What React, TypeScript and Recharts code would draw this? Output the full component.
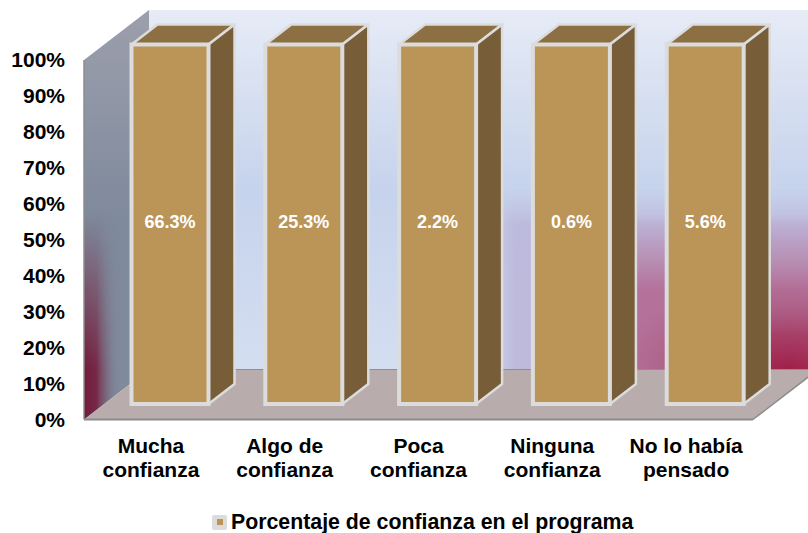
import { BarChart, Bar, XAxis, YAxis, Legend, LabelList, usePlotArea } from 'recharts';

const categories = ['Mucha confianza', 'Algo de confianza', 'Poca confianza', 'Ninguna confianza', 'No lo había pensado'];
const categoryLines = [
  ['Mucha', 'confianza'],
  ['Algo de', 'confianza'],
  ['Poca', 'confianza'],
  ['Ninguna', 'confianza'],
  ['No lo había', 'pensado'],
];
const shares = [66.3, 25.3, 2.2, 0.6, 5.6];
const percentTicks = [0, 0.1, 0.2, 0.3, 0.4, 0.5, 0.6, 0.7, 0.8, 0.9, 1];
const seriesName = 'Porcentaje de confianza en el programa';

const data = categories.map((name, i) => ({ name, share: shares[i] }));

const FONT = '"Liberation Sans", Arial, sans-serif';
const BORDER = '#DCDCDC';

// depth of the box floor and of the bars, and where a bar sits inside the box
const WALL_DX = 65;
const WALL_DY = 50;
const BAR_DX = 26;
const BAR_DY = 20;
const SHIFT_X = 19.5;
const SHIFT_Y = 15.5;

// fades a glow layer in along one direction, in page units
function FadeMask({ id, x1, y1, x2, y2 }: { id: string; x1: number; y1: number; x2: number; y2: number }) {
  return (
    <>
      <linearGradient id={`${id}Grad`} gradientUnits="userSpaceOnUse" x1={x1} y1={y1} x2={x2} y2={y2}>
        <stop offset="0" stopColor="#000" />
        <stop offset="1" stopColor="#fff" />
      </linearGradient>
      <mask id={id} maskUnits="userSpaceOnUse" x="0" y="0" width="808" height="533">
        <rect x="0" y="0" width="808" height="533" fill={`url(#${id}Grad)`} />
      </mask>
    </>
  );
}

function Walls() {
  const plot = usePlotArea();
  if (!plot) return null;
  const { x, y, width, height } = plot;
  const bottom = y + height;
  const right = x + width;
  const pts = (list: number[][]) => list.map((p) => p.join(',')).join(' ');
  const backX = x + WALL_DX;
  const backTop = y - WALL_DY;
  const backBottom = bottom - WALL_DY;
  const backRect = { x: backX, y: backTop, width: width + WALL_DX, height };
  const sidePoints = pts([[x, y], [backX, backTop], [backX, backBottom], [x, bottom]]);
  return (
    <g>
      <defs>
        <linearGradient id="backWall" x1="0" y1="0" x2="0" y2="1">
          <stop offset="0" stopColor="#E6EBF6" />
          <stop offset="0.5" stopColor="#C6D3EC" />
          <stop offset="1" stopColor="#D4DEF1" />
        </linearGradient>
        <linearGradient id="lavender" gradientUnits="userSpaceOnUse" x1="0" y1="190" x2="0" y2="225">
          <stop offset="0" stopColor="#BDBADC" stopOpacity="0" />
          <stop offset="1" stopColor="#BDBADC" />
        </linearGradient>
        <linearGradient id="pink" gradientUnits="userSpaceOnUse" x1="0" y1="215" x2="0" y2="290">
          <stop offset="0" stopColor="#B4729A" stopOpacity="0" />
          <stop offset="1" stopColor="#B4729A" />
        </linearGradient>
        <FadeMask id="lavenderMask" x1={480} y1={0} x2={515} y2={0} />
        <FadeMask id="pinkMask" x1={550} y1={0} x2={630} y2={0} />
        <radialGradient
          id="backGlow"
          gradientUnits="userSpaceOnUse"
          cx="0"
          cy="0"
          r="1"
          gradientTransform={`translate(${right + WALL_DX - 30} ${backBottom}) scale(190 100)`}
        >
          <stop offset="0" stopColor="#A01F48" />
          <stop offset="0.35" stopColor="#A53A62" stopOpacity="0.9" />
          <stop offset="1" stopColor="#B06E94" stopOpacity="0" />
        </radialGradient>
        <linearGradient id="sideWall" x1="0" y1="0" x2="0" y2="1">
          <stop offset="0" stopColor="#9C9FAC" />
          <stop offset="0.5" stopColor="#7F8A9C" />
          <stop offset="1" stopColor="#7F8A9C" />
        </linearGradient>
        <linearGradient id="sideGlow" gradientUnits="userSpaceOnUse" x1={x} y1="0" x2={x + 36} y2="0">
          <stop offset="0" stopColor="#741A38" />
          <stop offset="0.35" stopColor="#741F3E" stopOpacity="0.9" />
          <stop offset="1" stopColor="#7F8A9C" stopOpacity="0" />
        </linearGradient>
        <FadeMask id="sideMask" x1={0} y1={bottom - 205} x2={0} y2={bottom - 50} />
      </defs>
      <rect {...backRect} fill="url(#backWall)" />
      <rect {...backRect} fill="url(#lavender)" mask="url(#lavenderMask)" />
      <rect {...backRect} fill="url(#pink)" mask="url(#pinkMask)" />
      <rect {...backRect} fill="url(#backGlow)" />
      <polygon points={sidePoints} fill="url(#sideWall)" />
      <polygon points={sidePoints} fill="url(#sideGlow)" mask="url(#sideMask)" />
      <polygon
        points={pts([[x, bottom], [right, bottom], [right + WALL_DX, backBottom], [backX, backBottom]])}
        fill="#B8ACAC"
      />
      <line x1={x} y1={y} x2={x} y2={bottom} stroke="#8C8C8C" strokeWidth={1.5} />
      <line x1={x} y1={bottom} x2={right} y2={bottom} stroke="#8C8A8A" strokeWidth={2} />
      <line x1={right} y1={bottom} x2={right + WALL_DX} y2={backBottom} stroke="#8C8A8A" strokeWidth={1.5} />
      <line x1={backX} y1={backBottom} x2={right + WALL_DX} y2={backBottom} stroke="#8E8E96" strokeWidth={1} />
    </g>
  );
}

function BoxBar(props: any) {
  const x = props.x + SHIFT_X;
  const y = props.y - SHIFT_Y;
  const w = props.width;
  const h = props.height;
  const top = `${x},${y} ${x + BAR_DX},${y - BAR_DY} ${x + w + BAR_DX},${y - BAR_DY} ${x + w},${y}`;
  const side = `${x + w},${y} ${x + w + BAR_DX},${y - BAR_DY} ${x + w + BAR_DX},${y + h - BAR_DY} ${x + w},${y + h}`;
  return (
    <g>
      <polygon points={top} fill="#8C6F42" stroke={BORDER} strokeWidth={2.5} strokeLinejoin="round" />
      <polygon points={side} fill="#775E39" stroke={BORDER} strokeWidth={2.5} strokeLinejoin="round" />
      <rect x={x} y={y} width={w} height={h} fill="#BB9558" stroke={BORDER} strokeWidth={4} />
    </g>
  );
}

function ValueLabel(props: any) {
  const { x, y, width, height, index } = props;
  return (
    <text
      x={x + SHIFT_X + width / 2}
      y={y - SHIFT_Y + height / 2 - 2}
      fill="#fff"
      textAnchor="middle"
      dominantBaseline="central"
      style={{ fontFamily: FONT, fontWeight: 700, fontSize: 18 }}
    >
      {shares[index].toFixed(1)}%
    </text>
  );
}

function CategoryTick(props: any) {
  const { x, y, index } = props;
  return (
    <text textAnchor="middle" fill="#000" style={{ fontFamily: FONT, fontWeight: 700, fontSize: 21 }}>
      {categoryLines[index].map((line, i) => (
        <tspan key={line} x={x} y={y + 25 + i * 24}>
          {line}
        </tspan>
      ))}
    </text>
  );
}

function LegendBox() {
  return (
    <div style={{ display: 'flex', alignItems: 'center', fontFamily: FONT, fontWeight: 700, fontSize: 21.3, color: '#000', whiteSpace: 'nowrap' }}>
      <span
        style={{
          width: 15,
          height: 15,
          background: '#DCDCDC',
          borderRadius: 2,
          display: 'flex',
          alignItems: 'center',
          justifyContent: 'center',
          marginRight: 4,
        }}
      >
        <span style={{ width: 6, height: 6, background: '#BB9558', display: 'block' }} />
      </span>
      {seriesName}
    </div>
  );
}

export default function App() {
  return (
    <div style={{ position: 'absolute', left: 0, top: 0, width: 808, height: 533, background: '#fff', overflow: 'hidden' }}>
      <BarChart
        width={808}
        height={533}
        data={data}
        stackOffset="expand"
        barSize={77}
        margin={{ top: 60, right: 55, bottom: 30, left: 0 }}
      >
        <Walls />
        <XAxis dataKey="name" height={60} axisLine={false} tickLine={false} tick={<CategoryTick />} interval={0} />
        <YAxis
          width={84}
          domain={[0, 1]}
          ticks={percentTicks}
          axisLine={false}
          tickLine={false}
          tickSize={0}
          tickMargin={19}
          tickFormatter={(v: number) => `${Math.round(v * 100)}%`}
          tick={{ fill: '#000', fontFamily: FONT, fontWeight: 700, fontSize: 21 }}
        />
        <Legend
          height={23.5}
          content={<LegendBox />}
          wrapperStyle={{ left: 212, bottom: 0, width: 480 }}
        />
        <Bar dataKey="share" name={seriesName} stackId="a" shape={<BoxBar />} isAnimationActive={false}>
          <LabelList dataKey="share" content={<ValueLabel />} />
        </Bar>
      </BarChart>
    </div>
  );
}
